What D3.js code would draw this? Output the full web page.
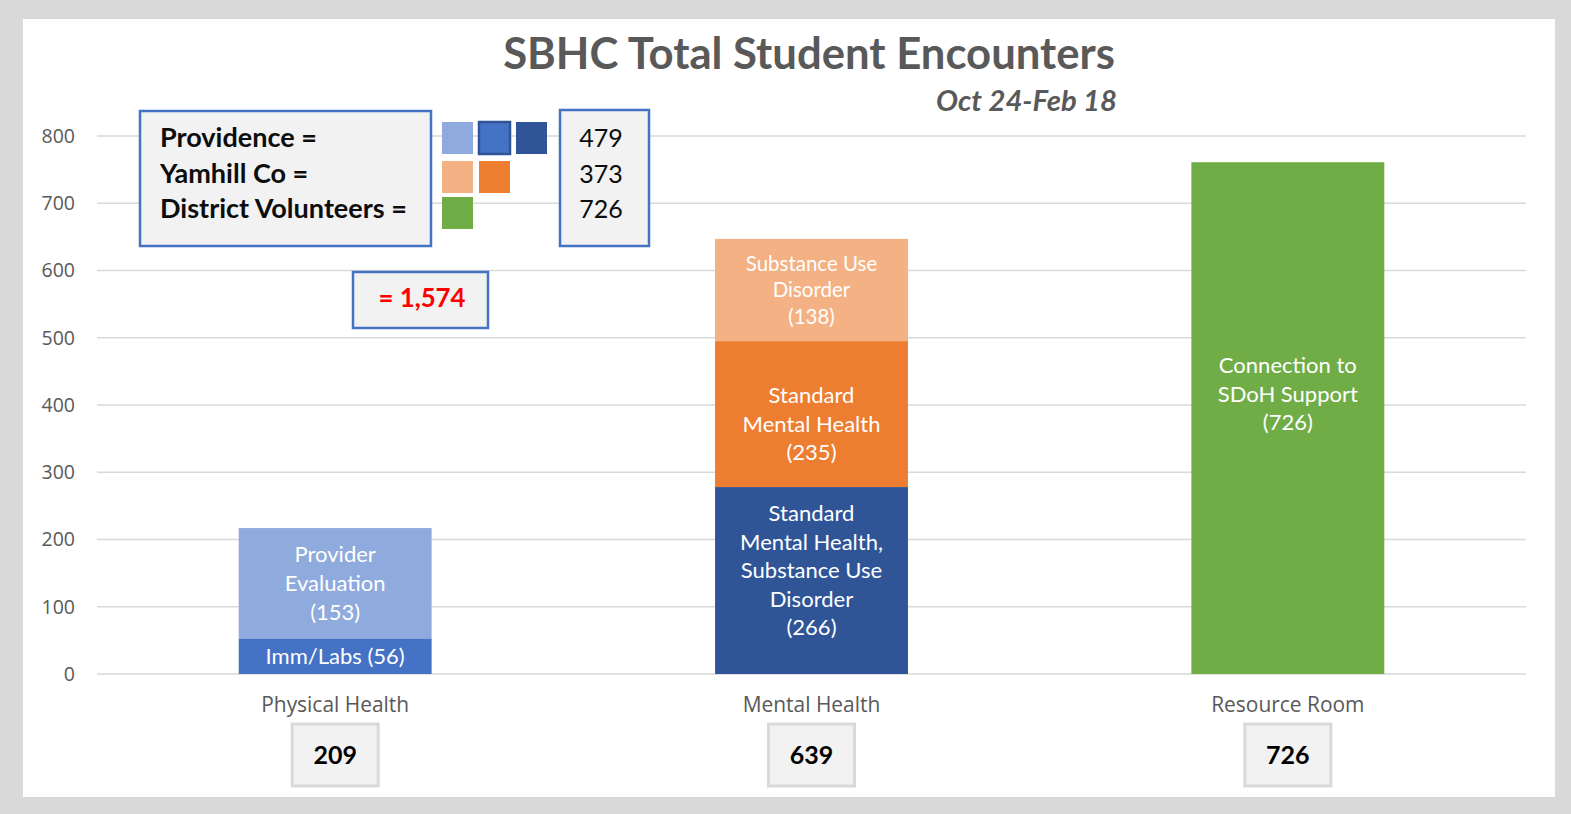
<!DOCTYPE html>
<html>
<head>
<meta charset="utf-8">
<script src="https://cdn.jsdelivr.net/npm/d3@7"></script>
<style>
  body { margin: 0; background: #d9d9d9; }
  svg { display: block; }
</style>
</head>
<body>
<div id="chart"></div>
<script>
// Categories and the number shown in the box under each one
const categories = ["Physical Health", "Mental Health", "Resource Room"];
const categoryTotals = ["209", "639", "726"];

// Stacked segments, bottom to top, with heights as drawn in the chart
const segmentCategory = ["Physical Health", "Physical Health", "Mental Health", "Mental Health", "Mental Health", "Resource Room"];
const segmentValues = [53, 164, 278, 217, 152, 761];
const segmentLabels = [
    ["Imm/Labs (56)"],
    ["Provider", "Evaluation", "(153)"],
    ["Standard", "Mental Health,", "Substance Use", "Disorder", "(266)"],
    ["Standard", "Mental Health", "(235)"],
    ["Substance Use", "Disorder", "(138)"],
    ["Connection to", "SDoH Support", "(726)"]
];

const yTicks = [0, 100, 200, 300, 400, 500, 600, 700, 800];

// Funder legend
const legendNames = ["Providence =", "Yamhill Co =", "District Volunteers ="];
const legendTotals = ["479", "373", "726"];
const grandTotal = "= 1,574";

// Styles
const segmentColors = ["#4472c4", "#8faadc", "#2f5597", "#ed7d31", "#f4b183", "#70ad47"];
const segmentFontScale = [1, 1, 1, 1, 0.93, 1];
const segmentLabelShift = [0, 0, -10, 10, 0, -24];
const legendSwatches = [["#8faadc", "#4472c4", "#2f5597"], ["#f4b183", "#ed7d31"], ["#70ad47"]];

const width = 1571;
const height = 814;
const calibri = "Lato, 'Open Sans', sans-serif";
const segoe = "'Open Sans', 'Noto Sans', sans-serif";
const grey = "#595959";

const svg = d3.select("#chart")
    .append("svg")
    .attr("width", width)
    .attr("height", height);

// size a text so that it has the given width
function fitWidth(sel, target) {
    const w = sel.node().getComputedTextLength();
    const fs = parseFloat(sel.attr("font-size"));
    const size = fs * target / w;
    sel.attr("font-size", size);
    return size;
}

svg.append("rect")
    .attr("width", width)
    .attr("height", height)
    .attr("fill", "#d9d9d9");

svg.append("rect")
    .attr("x", 23)
    .attr("y", 19)
    .attr("width", 1532)
    .attr("height", 778)
    .attr("fill", "#ffffff");

const x = d3.scaleBand()
    .domain(categories)
    .range([97, 1526])
    .paddingInner(0.595)
    .paddingOuter(0.2975);

const y = d3.scaleLinear()
    .domain([0, 800])
    .range([674, 136]);

// gridlines
svg.append("g")
    .selectAll("line")
    .data(yTicks)
    .join("line")
    .attr("x1", 97)
    .attr("x2", 1526)
    .attr("y1", d => y(d))
    .attr("y2", d => y(d))
    .attr("stroke", "#d9d9d9")
    .attr("stroke-width", 1.5);

// y axis labels
const yAxis = svg.append("g")
    .attr("transform", "translate(75,0)")
    .call(d3.axisLeft(y).tickValues(yTicks).tickSize(0).tickPadding(0));
yAxis.select(".domain").remove();
yAxis.selectAll("text")
    .attr("font-family", segoe)
    .attr("font-size", 19.5)
    .attr("fill", grey);

// title
const title = svg.append("text")
    .attr("x", 809)
    .attr("y", 69)
    .attr("text-anchor", "middle")
    .attr("font-family", calibri)
    .attr("font-weight", "bold")
    .attr("font-size", 40)
    .attr("fill", grey)
    .text("SBHC Total Student Encounters");
fitWidth(title, 612);

const subtitle = svg.append("text")
    .attr("x", 1117)
    .attr("y", 111)
    .attr("text-anchor", "end")
    .attr("font-family", calibri)
    .attr("font-weight", "bold")
    .attr("font-style", "italic")
    .attr("font-size", 26)
    .attr("fill", grey)
    .text("Oct 24-Feb 18");
fitWidth(subtitle, 181);

// stacked bars
const segments = [];
const running = {};
segmentValues.forEach((v, i) => {
    const cat = segmentCategory[i];
    const y0 = running[cat] || 0;
    segments.push({
        cat, y0, y1: y0 + v,
        color: segmentColors[i],
        lines: segmentLabels[i],
        fs: segmentFontScale[i],
        shift: segmentLabelShift[i]
    });
    running[cat] = y0 + v;
});

svg.append("g")
    .selectAll("rect")
    .data(segments)
    .join("rect")
    .attr("x", d => x(d.cat))
    .attr("width", x.bandwidth())
    .attr("y", d => y(d.y1))
    .attr("height", d => y(d.y0) - y(d.y1))
    .attr("fill", d => d.color);

// work out the bar label size from one line
const probe = svg.append("text")
    .attr("font-family", calibri)
    .attr("font-size", 20)
    .text("Mental Health");
const barFont = fitWidth(probe, 138);
probe.remove();
const lineGap = barFont * 1.3;

svg.append("g")
    .selectAll("text")
    .data(segments)
    .join("text")
    .attr("text-anchor", "middle")
    .attr("font-family", calibri)
    .attr("font-size", d => barFont * d.fs)
    .attr("fill", "#ffffff")
    .each(function (d) {
        const gap = lineGap * d.fs;
        const cx = x(d.cat) + x.bandwidth() / 2;
        const cy = (y(d.y0) + y(d.y1)) / 2 + d.shift;
        const top = cy - gap * (d.lines.length - 1) / 2;
        d3.select(this).selectAll("tspan")
            .data(d.lines)
            .join("tspan")
            .attr("x", cx)
            .attr("y", (l, k) => top + k * gap)
            .attr("dy", "0.35em")
            .text(l => l);
    });

// category labels
const catText = svg.append("g")
    .selectAll("text")
    .data(categories)
    .join("text")
    .attr("x", d => x(d) + x.bandwidth() / 2)
    .attr("y", 712)
    .attr("text-anchor", "middle")
    .attr("font-family", segoe)
    .attr("font-size", 20)
    .attr("fill", grey)
    .text(d => d);
const catFont = fitWidth(catText.filter((d, i) => i === 0), 148);
catText.attr("font-size", catFont);

// total boxes under the categories
const totals = svg.append("g")
    .selectAll("g")
    .data(categories)
    .join("g")
    .attr("transform", d => `translate(${x(d) + x.bandwidth() / 2},755)`);
totals.append("rect")
    .attr("x", -43)
    .attr("y", -31)
    .attr("width", 86)
    .attr("height", 62)
    .attr("fill", "#f2f2f2")
    .attr("stroke", "#d9d9d9")
    .attr("stroke-width", 3);
totals.append("text")
    .attr("y", 9)
    .attr("text-anchor", "middle")
    .attr("font-family", calibri)
    .attr("font-weight", "bold")
    .attr("font-size", 25)
    .attr("fill", "#000000")
    .text((d, i) => categoryTotals[i]);

// legend box
const boxStroke = "#4472c4";
svg.append("rect")
    .attr("x", 140)
    .attr("y", 111)
    .attr("width", 291)
    .attr("height", 135)
    .attr("fill", "#f2f2f2")
    .attr("stroke", boxStroke)
    .attr("stroke-width", 2.5);

const rowY = [147, 183, 218];
const names = svg.append("g")
    .selectAll("text")
    .data(legendNames)
    .join("text")
    .attr("x", 160)
    .attr("y", (d, i) => rowY[i])
    .attr("font-family", calibri)
    .attr("font-weight", "bold")
    .attr("font-size", 22)
    .attr("fill", "#0d0d0d")
    .text(d => d);
const nameFont = fitWidth(names.filter((d, i) => i === 2), 247);
names.attr("font-size", nameFont);

// swatches
const swatchRows = [122, 161, 197];
legendSwatches.forEach((row, r) => {
    svg.append("g")
        .selectAll("rect")
        .data(row)
        .join("rect")
        .attr("x", (d, k) => 442 + k * 37)
        .attr("y", swatchRows[r])
        .attr("width", 31)
        .attr("height", 32)
        .attr("fill", d => d)
        .attr("stroke", (d, k) => (r === 0 && k === 1) ? "#2f5597" : "none")
        .attr("stroke-width", 2.5);
});

svg.append("rect")
    .attr("x", 560)
    .attr("y", 110)
    .attr("width", 89)
    .attr("height", 136)
    .attr("fill", "#f2f2f2")
    .attr("stroke", boxStroke)
    .attr("stroke-width", 2.5);

svg.append("g")
    .selectAll("text")
    .data(legendTotals)
    .join("text")
    .attr("x", 601)
    .attr("y", (d, i) => rowY[i])
    .attr("text-anchor", "middle")
    .attr("font-family", calibri)
    .attr("font-size", 25)
    .attr("fill", "#0d0d0d")
    .text(d => d);

// grand total
svg.append("rect")
    .attr("x", 353)
    .attr("y", 272)
    .attr("width", 135)
    .attr("height", 56)
    .attr("fill", "#f2f2f2")
    .attr("stroke", boxStroke)
    .attr("stroke-width", 2.5);

const gt = svg.append("text")
    .attr("x", 422)
    .attr("y", 307)
    .attr("text-anchor", "middle")
    .attr("font-family", calibri)
    .attr("font-weight", "bold")
    .attr("font-size", 22)
    .attr("fill", "#ff0000")
    .text(grandTotal);
fitWidth(gt, 87);
</script>
</body>
</html>
